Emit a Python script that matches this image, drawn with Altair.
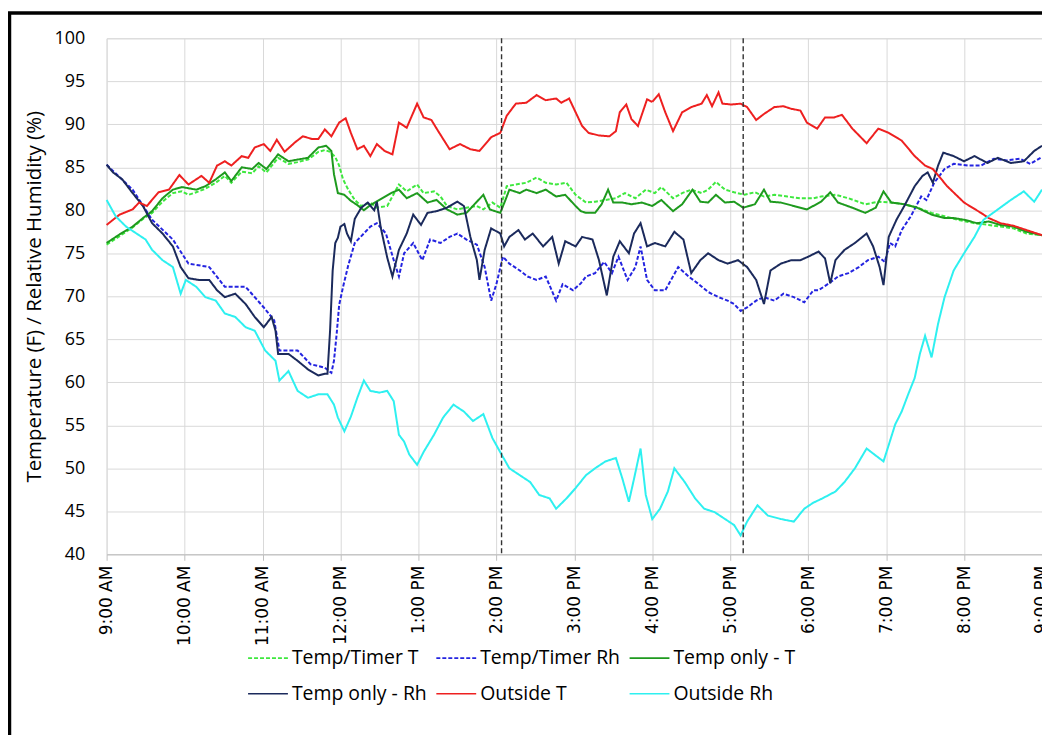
import altair as alt
import pandas as pd

# ---------------- data (minutes after 9:00 AM, value) ----------------
SERIES = ["Temp/Timer T", "Temp/Timer Rh", "Temp only - T",
          "Temp only - Rh", "Outside T", "Outside Rh"]
COLORS = ["#3ee83e", "#2424e0", "#1e9a1e", "#1b2a5c", "#ee2020", "#2ef0f0"]
DASHES = [[4, 2], [4, 2], [1, 0], [1, 0], [1, 0], [1, 0]]

timer_T_t = [0, 10, 20, 28, 35, 43, 51, 58, 63, 69, 76, 84, 91, 96, 104, 112, 117, 123, 132, 140,
             147, 155, 163, 168, 172, 176, 179, 182, 186, 191, 196, 203, 208, 216, 225, 231, 239,
             244, 252, 257, 262, 270, 277, 285, 290, 297, 303, 308, 315, 323, 331, 338, 346, 354,
             361, 369, 376, 384, 392, 399, 407, 415, 422, 427, 436, 443, 450, 458, 463, 469, 476,
             483, 491, 499, 506, 514, 524, 534, 544, 550, 561, 571, 584, 594, 604, 614, 624, 635,
             645, 655, 668, 679, 688, 698, 708, 720]
timer_T_v = [76.0, 77.0, 78.0, 79.0, 79.7, 81.0, 82.0, 82.2, 81.8, 82.1, 82.5, 83.2, 84.0, 83.2,
             84.5, 84.3, 85.1, 84.4, 86.1, 85.4, 85.6, 85.9, 86.8, 87.0, 86.8, 86.2, 85.2, 83.6,
             82.4, 81.2, 80.5, 80.9, 80.3, 80.5, 83.0, 82.2, 83.0, 82.0, 82.2, 81.6, 80.5, 80.1,
             80.3, 80.5, 80.1, 80.9, 80.3, 82.8, 83.0, 83.2, 83.8, 83.2, 83.0, 83.2, 81.8, 80.9,
             81.0, 81.2, 81.4, 82.0, 81.4, 82.4, 82.0, 82.7, 81.4, 82.0, 82.4, 82.0, 82.4, 83.3,
             82.4, 82.1, 81.8, 82.1, 81.6, 81.8, 81.6, 81.4, 81.4, 81.6, 81.8, 81.4, 80.7, 81.0,
             80.9, 80.7, 80.3, 79.7, 79.3, 78.9, 78.5, 78.3, 78.1, 77.9, 77.3, 77.1]

timer_Rh_t = [0, 20, 35, 51, 63, 79, 91, 107, 121, 129, 133, 147, 157, 168, 173, 175, 177, 179,
              182, 186, 191, 198, 203, 208, 215, 221, 225, 229, 236, 243, 249, 257, 264, 270, 277,
              285, 291, 296, 300, 305, 310, 318, 324, 331, 338, 346, 351, 359, 365, 369, 376, 383,
              389, 394, 401, 407, 411, 416, 422, 430, 440, 448, 455, 463, 471, 478, 483, 488, 493,
              500, 506, 514, 521, 529, 537, 544, 548, 556, 563, 571, 579, 586, 594, 599, 603, 607,
              612, 619, 627, 631, 637, 645, 652, 663, 673, 683, 693, 703, 711, 720]
timer_Rh_v = [85.3, 82.4, 78.9, 76.6, 73.8, 73.4, 71.1, 71.1, 68.7, 67.2, 63.7, 63.7, 62.1, 61.7,
              61.1, 62.5, 65.5, 69.0, 71.1, 73.6, 76.2, 77.3, 78.1, 78.5, 77.3, 74.2, 72.3, 75.0,
              76.2, 74.2, 76.6, 76.2, 76.9, 77.3, 76.6, 76.0, 73.4, 69.5, 71.4, 74.6, 73.8, 73.0,
              72.3, 71.9, 72.3, 69.5, 71.4, 70.7, 71.5, 72.3, 72.7, 74.0, 72.7, 74.6, 71.9, 73.4,
              75.8, 71.9, 70.7, 70.7, 73.4, 72.3, 71.5, 70.5, 69.9, 69.5, 69.1, 68.3, 68.7, 69.5,
              69.9, 69.5, 70.3, 69.9, 69.3, 70.7, 70.7, 71.5, 72.3, 72.7, 73.4, 74.2, 74.6, 74.0,
              76.2, 75.8, 77.7, 79.3, 81.6, 81.2, 83.2, 84.8, 85.4, 85.2, 85.2, 86.0, 85.8, 86.0,
              85.4, 86.2]

only_T_t = [0, 10, 20, 28, 35, 43, 51, 58, 69, 76, 84, 91, 96, 104, 112, 117, 123, 132, 140, 147,
            155, 163, 169, 173, 175, 178, 183, 188, 193, 198, 203, 211, 219, 225, 231, 239, 247,
            254, 262, 270, 277, 285, 290, 295, 303, 307, 310, 318, 323, 331, 338, 346, 353, 361,
            365, 369, 376, 381, 386, 390, 397, 404, 412, 420, 427, 436, 443, 451, 457, 463, 469,
            476, 483, 490, 499, 506, 511, 519, 529, 539, 550, 557, 563, 574, 584, 592, 598, 604,
            614, 624, 635, 645, 652, 660, 670, 679, 688, 698, 708, 720]
only_T_v = [76.2, 77.2, 78.1, 79.1, 79.9, 81.4, 82.4, 82.7, 82.4, 82.8, 83.6, 84.4, 83.4, 85.0,
            84.8, 85.5, 84.8, 86.5, 85.7, 85.9, 86.1, 87.3, 87.5, 86.9, 84.2, 82.0, 81.8, 81.1,
            80.6, 80.0, 80.6, 81.3, 82.0, 82.4, 81.4, 82.0, 80.9, 81.2, 80.1, 79.5, 79.7, 81.0,
            81.8, 80.1, 79.7, 81.2, 82.4, 82.0, 82.4, 82.0, 82.4, 81.6, 81.8, 80.5, 79.9, 79.7,
            79.7, 80.7, 82.4, 80.9, 80.9, 80.7, 80.9, 80.5, 81.2, 79.9, 80.7, 82.4, 81.0, 80.9,
            81.8, 80.9, 81.0, 80.3, 80.7, 82.4, 81.0, 80.9, 80.5, 80.1, 81.0, 82.1, 80.9, 80.3,
            79.7, 80.3, 82.2, 80.9, 80.7, 80.3, 79.5, 79.1, 79.1, 78.9, 78.5, 78.7, 78.3, 78.1,
            77.5, 77.1]

only_Rh_t = [0, 5, 12, 20, 28, 35, 43, 51, 57, 63, 71, 79, 85, 91, 99, 107, 114, 121, 127, 130,
             132, 140, 147, 155, 163, 168, 170, 172, 174, 176, 178, 180, 183, 185, 188, 191, 196,
             201, 206, 208, 211, 216, 220, 225, 231, 236, 242, 247, 254, 262, 270, 275, 280, 285,
             287, 291, 296, 303, 306, 310, 317, 322, 328, 336, 343, 348, 353, 361, 366, 374, 379,
             385, 390, 395, 402, 406, 411, 416, 422, 430, 437, 444, 450, 457, 463, 471, 478, 486,
             493, 500, 506, 511, 519, 527, 534, 540, 548, 553, 557, 561, 568, 576, 585, 590, 595,
             598, 602, 608, 614, 622, 628, 632, 636, 640, 644, 652, 660, 668, 678, 686, 696, 706,
             714, 720]
only_Rh_v = [85.3, 84.4, 83.6, 82.0, 80.5, 78.5, 77.3, 75.8, 73.4, 72.1, 71.9, 71.9, 70.7, 69.9,
             70.3, 69.1, 67.6, 66.4, 67.6, 66.0, 63.3, 63.3, 62.5, 61.5, 60.8, 61.0, 61.0, 66.0,
             73.0, 76.2, 76.8, 78.1, 78.4, 77.3, 76.4, 79.0, 80.3, 80.9, 80.0, 81.0, 78.0, 74.5,
             72.3, 75.4, 77.3, 79.5, 78.3, 79.7, 79.9, 80.3, 81.0, 80.5, 76.9, 74.2, 71.9, 75.4,
             77.9, 77.3, 75.8, 76.9, 77.7, 76.6, 77.3, 75.8, 76.9, 73.8, 76.4, 75.8, 76.9, 76.6,
             74.2, 70.1, 74.6, 76.4, 75.0, 77.3, 78.5, 75.8, 76.2, 75.8, 77.5, 76.6, 72.7, 74.2,
             75.0, 74.2, 73.8, 74.2, 73.4, 71.9, 69.1, 73.0, 73.8, 74.2, 74.2, 74.6, 75.2, 74.4,
             71.5, 74.2, 75.4, 76.2, 77.3, 75.8, 73.4, 71.3, 76.9, 78.9, 80.5, 82.8, 84.0, 84.4,
             83.2, 85.2, 86.7, 86.3, 85.7, 86.3, 85.5, 86.1, 85.5, 85.7, 86.9, 87.5]

out_T_t = [0, 10, 20, 25, 31, 40, 48, 56, 63, 73, 79, 85, 91, 96, 104, 109, 114, 121, 126, 131,
           137, 145, 151, 158, 163, 168, 173, 179, 184, 188, 193, 198, 203, 208, 214, 220, 225,
           231, 239, 244, 250, 254, 259, 264, 272, 280, 287, 296, 303, 308, 315, 323, 331, 338,
           346, 350, 356, 361, 366, 371, 379, 387, 392, 395, 400, 404, 409, 416, 420, 425, 430,
           436, 443, 450, 458, 462, 466, 471, 474, 481, 488, 493, 500, 506, 514, 521, 527, 534,
           539, 547, 553, 560, 566, 574, 585, 594, 602, 612, 622, 630, 636, 647, 660, 673, 679,
           688, 698, 708, 720]
out_T_v = [78.3, 79.5, 80.1, 80.9, 80.5, 82.1, 82.4, 84.1, 83.0, 84.0, 83.2, 85.2, 85.7, 85.2,
           86.3, 86.1, 87.3, 87.7, 86.9, 88.2, 86.8, 87.9, 88.6, 88.3, 88.3, 89.4, 88.6, 90.2,
           90.7, 89.0, 87.1, 87.5, 86.3, 87.7, 86.9, 86.5, 90.2, 89.6, 92.4, 90.8, 90.5, 89.5,
           88.3, 87.1, 87.7, 87.1, 86.9, 88.5, 89.0, 91.0, 92.4, 92.5, 93.4, 92.8, 93.0, 92.5,
           93.0, 91.4, 89.8, 89.0, 88.7, 88.6, 89.2, 91.4, 92.3, 90.6, 89.8, 92.9, 92.6, 93.5,
           91.4, 89.2, 91.4, 92.0, 92.4, 93.4, 92.1, 93.7, 92.4, 92.3, 92.4, 92.0, 90.5, 91.2,
           92.0, 92.1, 91.8, 91.6, 90.2, 89.5, 90.8, 90.8, 91.1, 89.5, 87.8, 89.5, 89.0, 88.1,
           86.3, 85.2, 84.8, 82.8, 80.9, 79.7, 79.1, 78.5, 78.2, 77.7, 77.1]

out_Rh_t = [0, 7, 15, 23, 30, 35, 43, 51, 57, 61, 69, 76, 84, 91, 99, 107, 114, 122, 130, 133,
            140, 147, 155, 163, 170, 175, 178, 183, 188, 193, 198, 203, 210, 216, 221, 225, 229,
            233, 239, 244, 252, 259, 267, 275, 282, 290, 297, 304, 310, 318, 326, 333, 341, 346,
            354, 361, 369, 376, 384, 392, 397, 402, 406, 411, 415, 420, 426, 432, 437, 445, 453,
            460, 468, 476, 483, 488, 493, 501, 509, 519, 529, 537, 544, 551, 561, 568, 576, 585,
            591, 598, 602, 607, 612, 617, 622, 626, 630, 635, 640, 645, 652, 660, 668, 675, 686,
            696, 706, 714, 720]
out_Rh_v = [81.2, 79.3, 78.1, 77.3, 76.6, 75.4, 74.2, 73.4, 70.3, 71.9, 71.1, 69.9, 69.5, 68.0,
            67.6, 66.4, 66.0, 63.7, 62.5, 60.2, 61.3, 59.0, 58.2, 58.6, 58.6, 57.4, 55.9, 54.3,
            56.0, 58.2, 60.2, 59.0, 58.8, 59.0, 57.8, 53.9, 53.1, 51.6, 50.4, 51.9, 53.9, 55.9,
            57.4, 56.6, 55.5, 56.3, 53.5, 51.6, 50.0, 49.2, 48.4, 46.9, 46.5, 45.3, 46.5, 47.7,
            49.2, 50.0, 50.8, 51.2, 48.8, 46.1, 48.8, 52.3, 46.9, 44.1, 45.3, 47.3, 50.0, 48.4,
            46.5, 45.3, 44.9, 44.1, 43.4, 42.2, 43.8, 45.7, 44.5, 44.1, 43.8, 45.3, 46.0, 46.5,
            47.3, 48.4, 50.0, 52.3, 51.6, 50.8, 52.7, 55.1, 56.6, 58.6, 60.5, 63.3, 65.4, 62.9,
            66.8, 69.9, 73.0, 75.0, 76.9, 78.9, 80.1, 81.2, 82.2, 81.0, 82.4]

MARKER_MINUTES = [304, 490]          # dashed vertical markers (~2:04 PM, ~5:10 PM)
HOUR_TICKS = list(range(0, 721, 60))  # 9:00 AM .. 9:00 PM
Y_TICKS = list(range(40, 101, 5))

# ---------------- build table ----------------
rows = []
for name, ts, vs in [
    (SERIES[0], timer_T_t, timer_T_v),
    (SERIES[1], timer_Rh_t, timer_Rh_v),
    (SERIES[2], only_T_t, only_T_v),
    (SERIES[3], only_Rh_t, only_Rh_v),
    (SERIES[4], out_T_t, out_T_v),
    (SERIES[5], out_Rh_t, out_Rh_v),
]:
    for t, v in zip(ts, vs):
        rows.append({"series": name, "minute": t, "value": v})
df = pd.DataFrame(rows)

GRID = "#d9d9d9"
hour = "(floor(datum.value/60)+9)"
label_expr = (f"({hour} > 12 ? {hour} - 12 : {hour}) + ':00 ' + ({hour} >= 12 ? 'PM' : 'AM')")

xscale = alt.Scale(domain=[0, 720], nice=False, zero=False)
yscale = alt.Scale(domain=[40, 100], nice=False, zero=False)

legend = alt.Legend(
    title=None, orient="none", legendX=141, legendY=601, columns=3, direction="horizontal",
    symbolType="stroke", symbolSize=1600, symbolStrokeWidth=1.6,
    labelFont="Open Sans", labelFontSize=19.5, labelColor="#000", labelOffset=3,
    columnPadding=5, rowPadding=5, labelLimit=400,
)

lines = alt.Chart(df).mark_line(strokeWidth=2, interpolate="linear").encode(
    x=alt.X("minute:Q", scale=xscale, axis=alt.Axis(
        values=HOUR_TICKS, labelExpr=label_expr, labelAngle=270, title=None,
        grid=True, gridColor=GRID, domainColor="#bfbfbf", tickColor="#bfbfbf", tickSize=6,
        labelFont="DejaVu Sans", labelFontSize=17, labelColor="#000", labelPadding=5,
        labelOverlap=False, labelBound=False, labelFlush=False)),
    y=alt.Y("value:Q", scale=yscale, axis=alt.Axis(
        values=Y_TICKS, title="Temperature (F) / Relative Humidity (%)",
        ticks=False, domain=False, grid=True, gridColor=GRID,
        labelFont="Open Sans", labelFontSize=18, labelColor="#000", labelPadding=22,
        titleFont="Open Sans", titleFontSize=20.5, titleFontWeight="normal",
        titleColor="#000", titlePadding=9)),
    color=alt.Color("series:N", scale=alt.Scale(domain=SERIES, range=COLORS), legend=legend),
    strokeDash=alt.StrokeDash("series:N", scale=alt.Scale(domain=SERIES, range=DASHES), legend=legend),
    detail="series:N",
)

markers = alt.Chart(pd.DataFrame({"minute": MARKER_MINUTES})).mark_rule(
    color="#333333", strokeDash=[5, 3], strokeWidth=1.4
).encode(x=alt.X("minute:Q", scale=xscale))

frame = alt.Chart(pd.DataFrame({"k": [0]})).mark_rect(
    filled=False, stroke="black", strokeWidth=3.5, clip=False
).encode(
    x=alt.value(-97.5), x2=alt.value(1200), y=alt.value(-25.5), y2=alt.value(900)
)

chart = alt.layer(lines, markers, frame).properties(
    width=939, height=518,
    autosize=alt.AutoSizeParams(type="none"),
    padding={"left": 99, "top": 29, "right": 0, "bottom": 180},
).configure_view(strokeWidth=0).configure(background="white")

chart.save("out.html", embed_options={"renderer": "svg", "actions": False})
